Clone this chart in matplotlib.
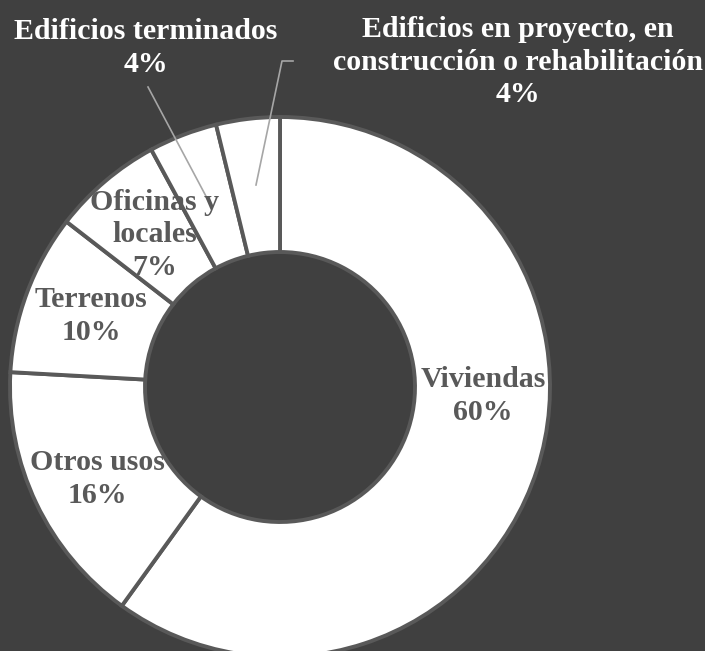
import numpy as np
import matplotlib
matplotlib.use('Agg')
from matplotlib import pyplot as plt

# datos (porcentaje del total)
categorias = ['Viviendas', 'Otros usos', 'Terrenos', 'Oficinas y\nlocales',
              'Edificios terminados', 'Edificios en proyecto, en\nconstrucción o rehabilitación']
valores = [59.9, 15.9, 9.6, 6.6, 4.1, 3.8]

fondo = '#404040'
borde = '#595959'

fig = plt.figure(figsize=(7.05, 6.51), dpi=100)
fig.patch.set_facecolor(fondo)
ax = fig.add_axes([0, 0, 1, 1])
ax.set_facecolor(fondo)
ax.set_xlim(0, 705)
ax.set_ylim(0, 651)
ax.set_aspect('equal')
ax.axis('off')

cx, cy, r = 280, 651 - 387, 270
wedges, _ = ax.pie(valores, startangle=90, counterclock=False, colors=['white'] * 6,
                   center=(cx, cy), radius=r,
                   wedgeprops=dict(width=r * 0.5, edgecolor=borde, linewidth=2.8))
ax.set_xlim(0, 705)
ax.set_ylim(0, 651)

pct = ['%d%%' % round(v) for v in valores]
# posiciones de las etiquetas en pixeles (desde arriba)
pos = [(483, 396), (97, 479), (91, 316), (155, 235), (146, 48), (518, 62)]
colores = [borde, borde, borde, borde, 'white', 'white']

font = dict(family='Liberation Serif', weight='bold', size=21.5)
for cat, p, (x, y), c in zip(categorias, pct, pos, colores):
    ax.text(x, 651 - y, cat + '\n' + p, ha='center', va='center', color=c,
            linespacing=1.28, **font)

# lineas guia
ax.plot([148, 208], [651 - 87, 651 - 200], color='#a6a6a6', lw=1.2)
ax.plot([293, 282, 256], [651 - 61, 651 - 61, 651 - 185], color='#a6a6a6', lw=1.2)

plt.savefig('out.png', dpi=100, facecolor=fondo)
